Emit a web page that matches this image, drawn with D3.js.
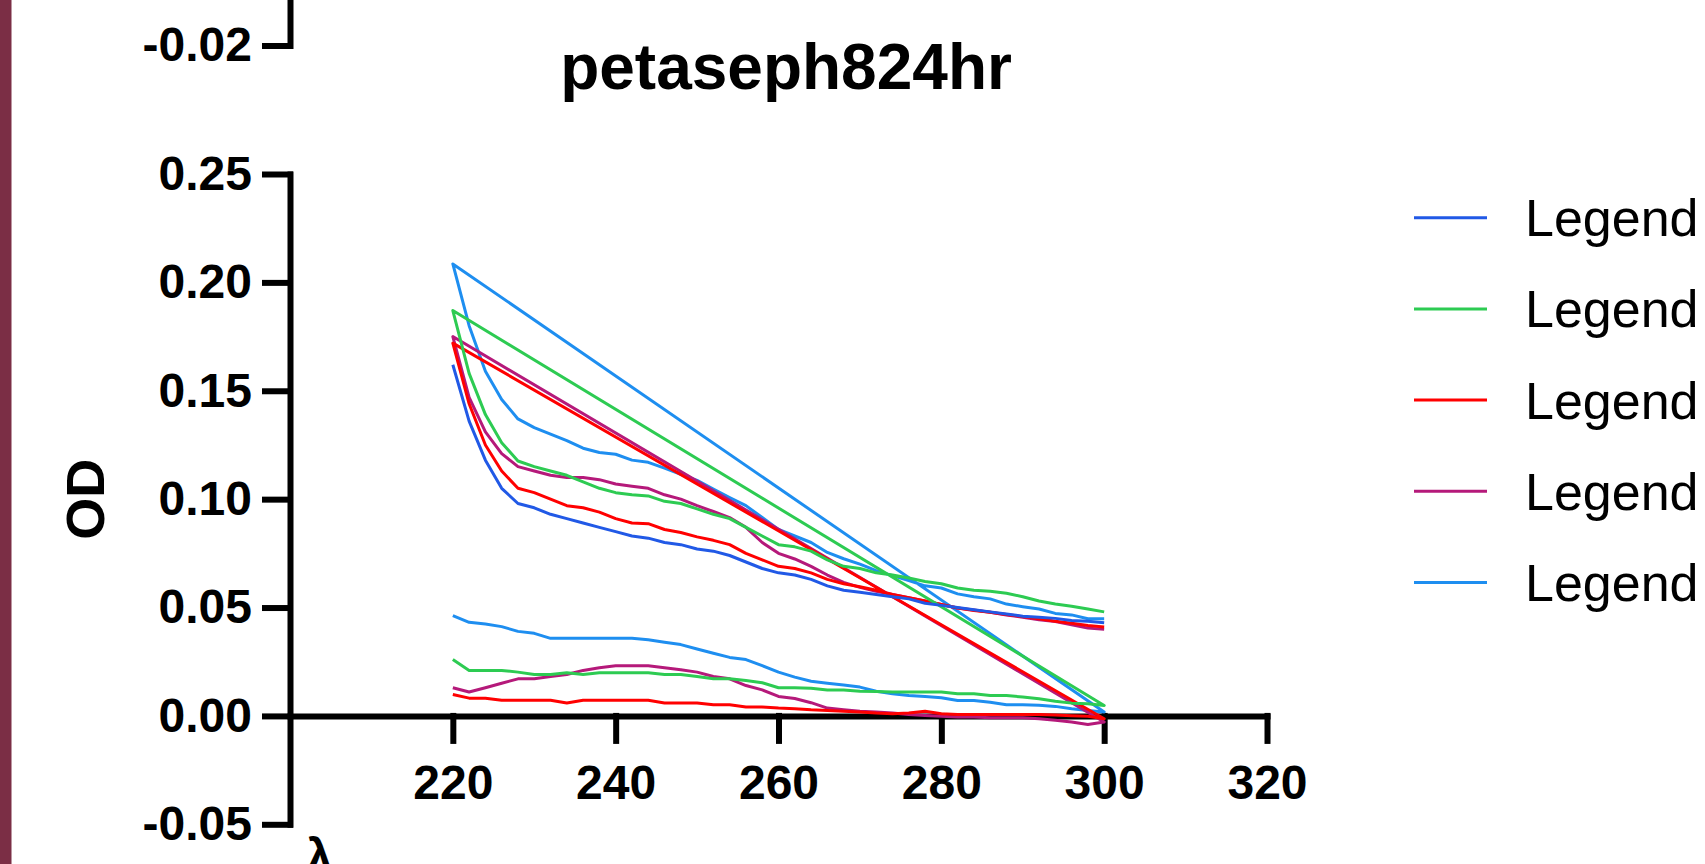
<!DOCTYPE html>
<html>
<head>
<meta charset="utf-8">
<title>petaseph824hr</title>
<script src="https://d3js.org/d3.v7.min.js"></script>
<style>
  html, body { margin: 0; padding: 0; width: 100%; height: 100%; background: #fff; overflow: hidden; }
  svg { display: block; }
  .axis path, .axis line { stroke: #000; stroke-width: 6px; stroke-linecap: square; fill: none; }
  .axis text { font-family: "Liberation Sans", Arial, sans-serif; font-weight: bold; font-size: 48px; fill: #000; }
  .series { fill: none; stroke-width: 3px; stroke-linejoin: round; }
</style>
</head>
<body>
<svg id="chart" width="1705" height="864"></svg>
<script>
// wavelength grid (nm)
const wavelengths = [220,222,224,226,228,230,232,234,236,238,240,242,244,246,248,250,252,254,256,258,
  260,262,264,266,268,270,272,274,276,278,280,282,284,286,288,290,292,294,296,298,300];

// first scan of each sample
const blueScan1 = [0.162,0.136,0.118,0.105,0.098,0.096,0.093,0.091,0.089,0.087,0.085,0.083,0.082,0.080,0.079,0.077,0.076,0.074,0.071,0.068,
  0.066,0.065,0.063,0.060,0.058,0.057,0.056,0.055,0.054,0.052,0.051,0.050,0.049,0.048,0.047,0.046,0.0455,0.045,0.044,0.0437,0.043];
const greenScan1 = [0.187,0.158,0.139,0.126,0.1176,0.115,0.113,0.111,0.108,0.105,0.103,0.102,0.1015,0.099,0.098,0.0955,0.093,0.091,0.087,0.083,
  0.079,0.078,0.076,0.072,0.069,0.068,0.066,0.065,0.0636,0.062,0.061,0.059,0.058,0.0575,0.0566,0.055,0.053,0.0516,0.0506,0.0493,0.048];
const redScan1 = [0.172,0.144,0.125,0.113,0.105,0.103,0.100,0.097,0.096,0.094,0.091,0.089,0.0887,0.086,0.0846,0.0826,0.081,0.079,0.075,0.072,
  0.069,0.068,0.066,0.063,0.061,0.0596,0.058,0.056,0.0545,0.053,0.0514,0.0498,0.0486,0.0478,0.0468,0.0458,0.0448,0.0437,0.0428,0.0417,0.041];
const magentaScan1 = [0.175,0.147,0.131,0.121,0.115,0.113,0.111,0.110,0.110,0.109,0.107,0.106,0.105,0.102,0.100,0.097,0.0943,0.0915,0.087,0.080,
  0.075,0.0724,0.069,0.065,0.0616,0.0593,0.0575,0.056,0.0545,0.053,0.0514,0.0498,0.0489,0.0478,0.0466,0.0455,0.0444,0.0435,0.042,0.0405,0.040];
const skyScan1 = [0.2085,0.180,0.159,0.146,0.137,0.133,0.130,0.127,0.1235,0.1215,0.1207,0.118,0.117,0.1143,0.1115,0.1087,0.1046,0.1007,0.097,0.0915,
  0.086,0.083,0.080,0.0754,0.0725,0.070,0.067,0.0647,0.0624,0.060,0.059,0.0563,0.055,0.054,0.0516,0.0504,0.0493,0.0473,0.0466,0.0448,0.0448];

// second scan (the blue sample has none)
const greenScan2 = [0.026,0.021,0.021,0.021,0.0202,0.0191,0.0191,0.0199,0.0191,0.0199,0.0199,0.0199,0.0199,0.0191,0.0191,0.0182,0.0171,0.0171,0.0163,0.0153,
  0.013,0.013,0.0128,0.012,0.012,0.0114,0.0113,0.011,0.011,0.011,0.011,0.0102,0.0102,0.0094,0.0094,0.0087,0.0079,0.0068,0.0059,0.0056,0.0048];
const redScan2 = [0.0099,0.0082,0.0082,0.0072,0.0072,0.0072,0.0072,0.006,0.0072,0.0072,0.0072,0.0072,0.0072,0.006,0.006,0.006,0.0052,0.0052,0.0041,0.0041,
  0.0036,0.0033,0.0028,0.0025,0.0021,0.0018,0.0013,0.001,0.0013,0.0022,0.001,0.0007,0.0007,0.0007,0.0007,0.0007,0.0007,0.0004,0.0001,-0.0002,-0.0013];
const magentaScan2 = [0.013,0.011,0.013,0.0151,0.0171,0.0171,0.0182,0.0191,0.021,0.0222,0.0231,0.0231,0.0231,0.0222,0.0213,0.0202,0.0182,0.0171,0.014,0.012,
  0.009,0.008,0.0061,0.0036,0.0028,0.0021,0.0018,0.0013,0.0007,0.0002,-0.0002,-0.0005,-0.0005,-0.0008,-0.0008,-0.0008,-0.0013,-0.002,-0.0028,-0.004,-0.0028];
const skyScan2 = [0.0463,0.0432,0.0424,0.0412,0.039,0.0381,0.0358,0.0358,0.0358,0.0358,0.0358,0.0358,0.0351,0.034,0.0329,0.0309,0.0289,0.027,0.026,0.0232,
  0.0202,0.0179,0.016,0.0151,0.0143,0.0133,0.0114,0.0102,0.0094,0.009,0.0084,0.0071,0.0071,0.0063,0.0052,0.0052,0.0049,0.0044,0.0033,0.0025,0.0018];

const seriesNames = ["Legend", "Legend", "Legend", "Legend", "Legend"];
const seriesColors = ["#2159E6", "#2DCB52", "#FF0000", "#B5197A", "#1E8EF0"];
const seriesScans = [
  [blueScan1],
  [greenScan1, greenScan2],
  [redScan1, redScan2],
  [magentaScan1, magentaScan2],
  [skyScan1, skyScan2]
];

const xTicks = [220, 240, 260, 280, 300, 320];
const yTicks = [-0.05, 0, 0.05, 0.10, 0.15, 0.20, 0.25];

// plain hyphen for negatives, like the original
const fmt2 = d => d3.format(".2f")(d).replace("\u2212", "-");

const svg = d3.select("#chart");

// edge of the neighbouring panel
svg.append("rect").attr("x", 0).attr("y", 0).attr("width", 11.5).attr("height", 864).attr("fill", "#7B2E45");

const x = d3.scaleLinear().domain([200, 320]).range([290, 1267]);
const y = d3.scaleLinear().domain([-0.05, 0.25]).range([824.3, 174]);

// y axis
svg.append("g")
  .attr("class", "axis")
  .attr("transform", `translate(${x(200)},0)`)
  .call(d3.axisLeft(y).tickValues(yTicks).tickFormat(fmt2).tickSize(25).tickSizeOuter(0).tickPadding(13));

// x axis sits at OD = 0
svg.append("g")
  .attr("class", "axis")
  .attr("transform", `translate(0,${y(0)})`)
  .call(d3.axisBottom(x).tickValues(xTicks).tickFormat(d3.format("d")).tickSize(25).tickSizeOuter(0).tickPadding(24));

// bottom of the panel above
const yAbove = d3.scaleLinear().domain([-0.02, 0]).range([45.5, -60]);
svg.append("g")
  .attr("class", "axis")
  .attr("transform", `translate(${x(200)},0)`)
  .call(d3.axisLeft(yAbove).tickValues([-0.02]).tickFormat(fmt2).tickSize(25).tickSizeOuter(0).tickPadding(13));

const line = d3.line().x(d => x(d[0])).y(d => y(d[1]));

// each sample is one polyline: scans are joined end to end, running 300 -> 220
const plot = svg.append("g");
d3.range(seriesScans.length - 1, -1, -1).forEach(i => {
  let pts = [];
  seriesScans[i].forEach(scan => {
    const p = wavelengths.map((w, j) => [w, scan[j]]).reverse();
    pts = pts.concat(p);
  });
  plot.append("path")
    .attr("class", "series")
    .attr("stroke", seriesColors[i])
    .attr("d", line(pts));
});

// title
svg.append("text")
  .attr("x", 786).attr("y", 89)
  .attr("text-anchor", "middle")
  .style("font-family", "'Liberation Sans', Arial, sans-serif")
  .style("font-weight", "bold").style("font-size", "64px")
  .text("petaseph824hr");

// y axis title
svg.append("text")
  .attr("transform", `translate(104,${y(0.10)}) rotate(-90)`)
  .attr("text-anchor", "middle")
  .style("font-family", "'Liberation Sans', Arial, sans-serif")
  .style("font-weight", "bold").style("font-size", "54px")
  .text("OD");

// x axis title (cut by the page edge, as in the original)
svg.append("text")
  .attr("x", 306).attr("y", 872)
  .style("font-family", "'Liberation Sans', Arial, sans-serif")
  .style("font-weight", "bold").style("font-size", "48px")
  .text("λ");

// legend
const legend = svg.append("g").attr("transform", "translate(1414,217.7)");
seriesNames.forEach((name, i) => {
  const row = legend.append("g").attr("transform", `translate(0,${i * 91.2})`);
  row.append("line").attr("x1", 0).attr("x2", 73).attr("y1", 0).attr("y2", 0)
    .attr("stroke", seriesColors[i]).attr("stroke-width", 3);
  row.append("text").attr("x", 111).attr("y", 18.5)
    .style("font-family", "'Liberation Sans', Arial, sans-serif")
    .style("font-size", "52px")
    .text(name);
});
</script>
</body>
</html>
